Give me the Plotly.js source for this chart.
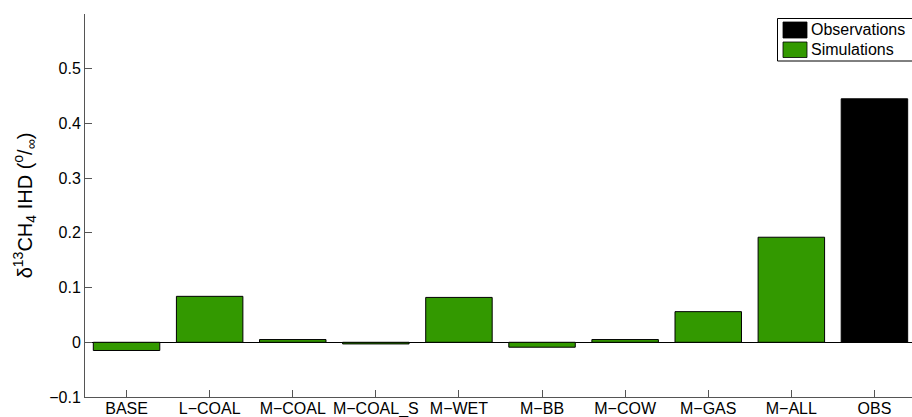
<!DOCTYPE html>
<html>
<head>
<meta charset="utf-8">
<script src="https://cdn.plot.ly/plotly-3.0.1.min.js"></script>
<style>
  html, body { margin: 0; padding: 0; background: #fff; }
  #chart { width: 912px; height: 417px; }
</style>
</head>
<body>
<div id="chart"></div>
<script>
// Inter-hemispheric difference of δ13CH4 for each model scenario and the observed value
const simCategories = ['BASE', 'L\u2212COAL', 'M\u2212COAL', 'M\u2212COAL_S', 'M\u2212WET', 'M\u2212BB', 'M\u2212COW', 'M\u2212GAS', 'M\u2212ALL'];
const simValues = [-0.015, 0.084, 0.005, -0.003, 0.082, -0.009, 0.005, 0.056, 0.192];
const obsCategories = ['OBS'];
const obsValues = [0.445];
const allCategories = simCategories.concat(obsCategories);
const yTickVals = [-0.1, 0, 0.1, 0.2, 0.3, 0.4, 0.5];
const yTickText = ['\u22120.1', '0', '0.1', '0.2', '0.3', '0.4', '0.5'];

const obsColor = '#000000';
const simColor = '#339900';
const axisGray = '#555555';

const obsTrace = {
  type: 'bar',
  name: 'Observations',
  x: obsCategories,
  y: obsValues,
  width: 0.8,
  marker: { color: obsColor, line: { color: '#000000', width: 1 } }
};

const simTrace = {
  type: 'bar',
  name: 'Simulations',
  x: simCategories,
  y: simValues,
  width: 0.8,
  marker: { color: simColor, line: { color: '#000000', width: 1 } }
};

// plot area geometry (pixels), used to place the boxed legend in paper coordinates
const W = 912, H = 417;
const M = { l: 85, r: 0, t: 14, b: 20 };
const plotW = W - M.l - M.r, plotH = H - M.t - M.b;
const px = v => (v - M.l) / plotW;
const py = v => (H - M.b - v) / plotH;

const legendItems = [
  { name: obsTrace.name, color: obsColor, top: 22, bottom: 38 },
  { name: simTrace.name, color: simColor, top: 42, bottom: 57.5 }
];

const shapes = [{
  type: 'rect', xref: 'paper', yref: 'paper',
  x0: px(777.5), x1: px(916), y0: py(61), y1: py(18.5),
  fillcolor: '#ffffff', line: { color: '#000000', width: 1 }, layer: 'above'
}];
const annotations = [];
legendItems.forEach(it => {
  shapes.push({
    type: 'rect', xref: 'paper', yref: 'paper',
    x0: px(783), x1: px(807), y0: py(it.bottom), y1: py(it.top),
    fillcolor: it.color, line: { color: '#000000', width: 0.8 }, layer: 'above'
  });
  annotations.push({
    xref: 'paper', yref: 'paper',
    x: px(809), y: py((it.top + it.bottom) / 2),
    xanchor: 'left', yanchor: 'middle',
    text: it.name, showarrow: false,
    font: { size: 16, color: '#000000' }
  });
});

const layout = {
  width: W,
  height: H,
  margin: { l: M.l, r: M.r, t: M.t, b: M.b, pad: 0 },
  paper_bgcolor: '#ffffff',
  plot_bgcolor: '#ffffff',
  barmode: 'overlay',
  font: { family: 'Liberation Sans, Arial, sans-serif', color: '#000000', size: 16 },
  showlegend: false,
  shapes: shapes,
  annotations: annotations,
  xaxis: {
    type: 'category',
    categoryorder: 'array',
    categoryarray: allCategories,
    range: [-0.5, 9.452],
    showline: true, linecolor: axisGray, linewidth: 1,
    ticks: 'inside', ticklen: 7, tickcolor: axisGray, tickwidth: 1,
    ticklabelstandoff: -3,
    showgrid: false, zeroline: false,
    tickfont: { size: 16 },
    automargin: false,
    fixedrange: true
  },
  yaxis: {
    range: [-0.1, 0.6],
    tickvals: yTickVals,
    ticktext: yTickText,
    showline: true, linecolor: axisGray, linewidth: 1,
    ticks: 'inside', ticklen: 7, tickcolor: axisGray, tickwidth: 1,
    showgrid: false,
    zeroline: true, zerolinecolor: '#000000', zerolinewidth: 1,
    tickfont: { size: 16 },
    title: {
      text: '\u03b4<sup>13</sup>CH<sub>4</sub> IHD (<sup>o</sup>/<sub>\u221e</sub>)',
      font: { size: 20 },
      standoff: 11
    },
    automargin: false,
    fixedrange: true
  }
};

Plotly.newPlot('chart', [obsTrace, simTrace], layout, { displayModeBar: false, staticPlot: true });
</script>
</body>
</html>
